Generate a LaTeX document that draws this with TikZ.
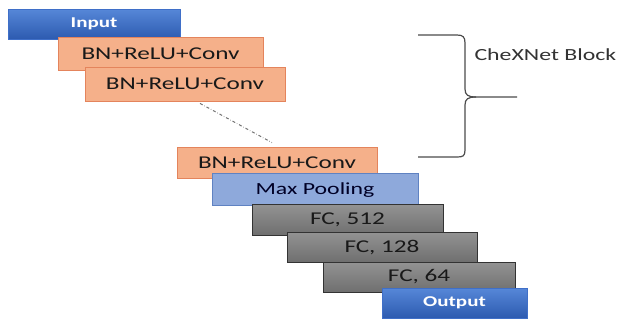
\documentclass[tikz,border=0pt]{standalone}
\usepackage{fontspec}
\setmainfont{Carlito}
\usepackage{graphicx}
\usetikzlibrary{positioning}
\definecolor{ioblue}{HTML}{3F6FC8}
\definecolor{iotop}{HTML}{5687D8}
\definecolor{iobot}{HTML}{2D5BB0}
\definecolor{convfill}{HTML}{F5B08A}
\definecolor{convline}{HTML}{E4845C}
\definecolor{poolfill}{HTML}{8EA9DB}
\definecolor{poolline}{HTML}{5F82C2}
\definecolor{fctop}{HTML}{939393}
\definecolor{fcbot}{HTML}{6F6F6F}
\newcommand{\wtxt}[1]{\scalebox{1.4}[1]{#1}}
\begin{document}
\begin{tikzpicture}[x=1pt,y=-1pt]
    \tikzstyle{layer}=[rectangle, inner sep=0pt, anchor=center]
    \tikzstyle{iobox}=[layer, top color=iotop, bottom color=iobot, draw=ioblue, text=white, font=\fontsize{15}{15}\selectfont\bfseries]
    \tikzstyle{convbox}=[layer, fill=convfill, draw=convline, line width=0.8pt, text=black!90, minimum width=200pt, font=\fontsize{18}{18}\selectfont]
    \tikzstyle{poolbox}=[layer, fill=poolfill, draw=poolline, line width=0.8pt, text=blue!15!black, font=\fontsize{17}{17}\selectfont]
    \tikzstyle{fcbox}=[layer, top color=fctop, bottom color=fcbot, draw=black!80, line width=1pt, text=black!90, font=\fontsize{18}{18}\selectfont]
    \useasboundingbox (0,0) rectangle (617,324);
    \fill[white] (0,0) rectangle (617,324);
    \node[iobox, minimum width=172pt, minimum height=30pt] (input) at (94,24) {\wtxt{Input}};
    \node[convbox, minimum width=205pt, minimum height=33pt] (conv1) at (160.5,53.5) {\wtxt{BN+ReLU+Conv}};
    \node[convbox, minimum height=34pt] (conv2) at (185,84) {\wtxt{BN+ReLU+Conv}};
    \node[convbox, minimum height=31pt] (conv3) at (277,162.5) {\wtxt{BN+ReLU+Conv}};
    \node[poolbox, minimum width=206pt, minimum height=32pt, text depth=-3pt] (pool) at (315,189) {\wtxt{Max Pooling}};
    \node[fcbox, minimum width=191pt, minimum height=31pt] (fc1) at (347.5,219.5) {\wtxt{FC, 512}};
    \node[fcbox, minimum width=190pt, minimum height=30pt] (fc2) at (382,247) {\wtxt{FC, 128}};
    \node[fcbox, minimum width=192pt, minimum height=30pt] (fc3) at (419,277) {\wtxt{FC, 64}};
    \node[iobox, minimum width=145pt, minimum height=30pt] (output) at (454.5,303) {\wtxt{Output}};
    \draw[black!55, dash dot, line width=1pt] ([xshift=15pt,yshift=-2pt]conv2.south) -- ([xshift=-5pt,yshift=4pt]conv3.north);
    % brace
    \draw[black!70, line width=1.2pt] (418,35) -- (457,35) .. controls (463,35) and (465,37) .. (465,43) -- (465,89) .. controls (465,95) and (468,97) .. (476,97) -- (517,97);
    \draw[black!70, line width=1.2pt] (476,97) .. controls (468,97) and (465,99) .. (465,105) -- (465,150) .. controls (465,156) and (463,157) .. (457,157) -- (418,157);
    \node[anchor=west, text=black!80, font=\fontsize{17}{17}\selectfont] (block) at (471,55) {\wtxt{CheXNet Block}};
\end{tikzpicture}
\end{document}
